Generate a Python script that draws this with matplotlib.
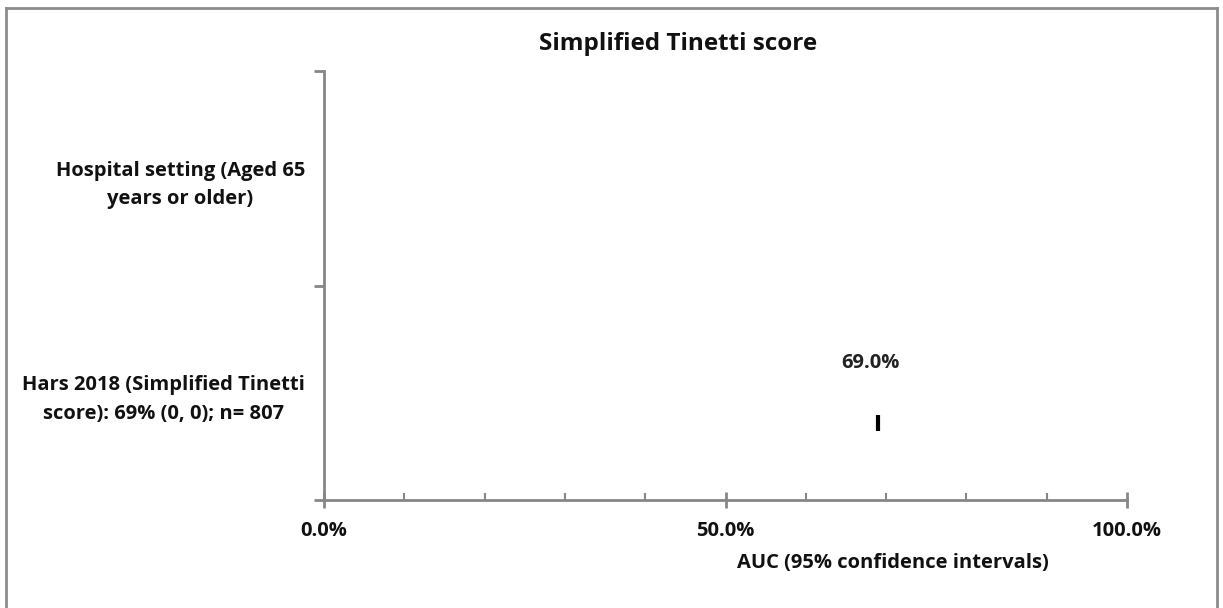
import matplotlib
matplotlib.use("Agg")
import matplotlib.pyplot as plt
from matplotlib.lines import Line2D
from matplotlib.ticker import FixedLocator

plt.rcParams['font.family'] = ['Open Sans', 'DejaVu Sans']

title = "Simplified Tinetti score"
categories = ["Hospital setting (Aged 65\nyears or older)",
              "Hars 2018 (Simplified Tinetti\nscore): 69% (0, 0); n= 807"]
auc = [0.69]
ci_low = [0.69]
ci_high = [0.69]
point_labels = ["69.0%"]
xlabel = "AUC (95% confidence intervals)"
xticks = [0.0, 0.5, 1.0]
xtick_labels = ["0.0%", "50.0%", "100.0%"]

W, H = 1223, 608
fig = plt.figure(figsize=(W / 100, H / 100), dpi=100)
ax = fig.add_axes([324 / W, 1 - 500 / H, (1127 - 324) / W, (500 - 71) / H])

axis_col = "#868686"
FS = 14.5
y_study = 1.64
ax.errorbar(auc, [y_study], xerr=[[a - l for a, l in zip(auc, ci_low)],
                                   [h - a for a, h in zip(auc, ci_high)]],
            fmt="none", ecolor="black")
ax.plot(auc, [y_study], linestyle="none", marker="|", markersize=12,
        markeredgewidth=3, color="black")
for a, t in zip(auc, point_labels):
    ax.text(a - 0.01, 1.36, t, ha="center", va="center", fontsize=FS,
            fontweight="bold", color="#222222")

ax.set_xlim(0, 1)
ax.set_ylim(2, 0)
ax.set_xticks(xticks)
ax.set_xticklabels(xtick_labels)
ax.xaxis.set_minor_locator(FixedLocator([i / 10 for i in range(1, 10) if i != 5]))
ax.set_yticks([0, 1, 2])
ax.set_yticklabels(["", "", ""])
ax.set_yticks([0.5, 1.5], minor=True)
ax.set_yticklabels(categories, minor=True, fontsize=FS, fontweight="bold",
                   ha="right", multialignment="center", color="#111111",
                   linespacing=1.55)

for s in ["top", "right"]:
    ax.spines[s].set_visible(False)
for s in ["left", "bottom"]:
    ax.spines[s].set_color(axis_col)
    ax.spines[s].set_linewidth(2)

ax.tick_params(axis="x", which="major", direction="inout", length=12, width=2,
               color=axis_col, labelsize=FS, pad=9, labelcolor="#111111")
ax.tick_params(axis="x", which="minor", direction="in", length=5, width=1.5,
               color=axis_col)
ax.tick_params(axis="y", which="major", direction="out", length=7, width=2,
               color=axis_col)
ax.tick_params(axis="y", which="minor", length=0, pad=13.7)
for lab in ax.get_xticklabels():
    lab.set_fontweight("bold")

fig.text(678 / W, 1 - 44 / H, title, ha="center", va="center", fontsize=17.5,
         fontweight="bold", color="#111111")
fig.text(893 / W, 1 - 563 / H, xlabel, ha="center", va="center", fontsize=FS,
         fontweight="bold", color="#111111")

bc = "#8c8c8c"
fig.add_artist(Line2D([6 / W, 6 / W], [0, 1 - 8 / H], transform=fig.transFigure,
                      color=bc, linewidth=2))
fig.add_artist(Line2D([6 / W, 1217 / W], [1 - 8 / H, 1 - 8 / H],
                      transform=fig.transFigure, color=bc, linewidth=2))
fig.add_artist(Line2D([1217 / W, 1217 / W], [0, 1 - 8 / H],
                      transform=fig.transFigure, color=bc, linewidth=2))

fig.savefig("out.png", dpi=100)
